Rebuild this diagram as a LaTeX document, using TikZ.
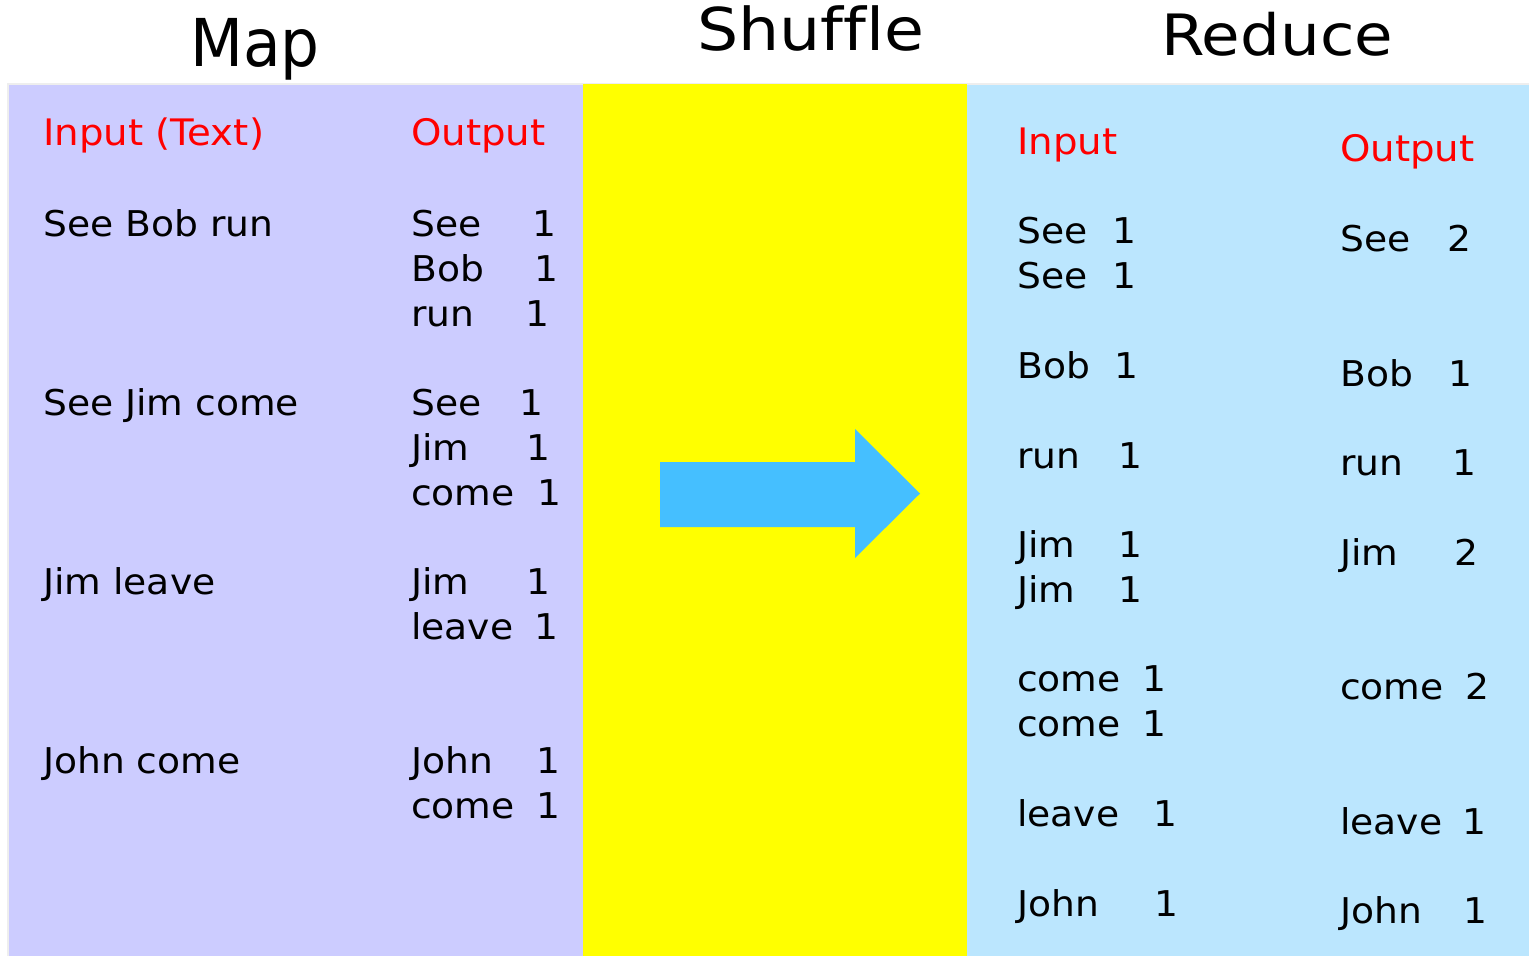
\documentclass[tikz,border=0pt]{standalone}
\usepackage{fontspec}
\setmainfont{DejaVu Sans}
\newfontfamily\bodyf[FakeStretch=1.06]{DejaVu Sans}
\newfontfamily\hdrf[FakeStretch=1.06]{DejaVu Sans}
\newfontfamily\mapf[FakeStretch=0.93]{DejaVu Sans}
\newfontfamily\titf[FakeStretch=1.10,Ligatures=NoCommon]{DejaVu Sans}
\definecolor{lav}{HTML}{CCCCFF}
\definecolor{yel}{HTML}{FFFF00}
\definecolor{lblue}{HTML}{BBE6FE}
\definecolor{arrowblue}{HTML}{45BFFF}
\definecolor{edge}{HTML}{EEEEEE}
\tikzset{
  txt/.style={anchor=base west, inner sep=0pt, font=\bodyf\fontsize{35.5}{42}\selectfont},
  num/.style={anchor=base, inner sep=0pt, font=\bodyf\fontsize{35.5}{42}\selectfont},
  hdr/.style={anchor=base west, inner sep=0pt, text=red, font=\hdrf\fontsize{36.5}{43}\selectfont},
  ttl/.style={anchor=base, inner sep=0pt, font=\titf\fontsize{57}{68}\selectfont},
}
\begin{document}
\begin{tikzpicture}[x=1pt,y=-1pt]
\useasboundingbox (0,0) rectangle (1529,956);
% panels
\fill[edge] (7,83) rectangle (967,956);
\fill[edge] (958,83) rectangle (1529,956);
\fill[lav] (9,85) rectangle (583,956);
\fill[yel] (583,84) rectangle (967,956);
\fill[lblue] (967,85) rectangle (1529,956);
% arrow
\fill[arrowblue] (660,462) -- (855,462) -- (855,429) -- (920,493.5) -- (855,558) -- (855,527) -- (660,527) -- cycle;
% titles
\node[ttl, font=\mapf\fontsize{66}{78}\selectfont] (tmap) at (255,66) {Map};
\node[ttl, font=\titf\fontsize{59}{70}\selectfont] (tshuf) at (811,50) {Shuffle};
\node[ttl] (tred) at (1277,55) {Reduce};
% map panel
\node[hdr] (min) at (43,145) {Input (Text)};
\node[hdr] (mout) at (411,145) {Output};
\node[txt] (l1) at (43,236) {See Bob run};
\node[txt] (l2) at (43,415) {See Jim come};
\node[txt] (l3) at (43,594) {Jim leave};
\node[txt] (l4) at (43,773) {John come};
\node[txt] (o1) at (411,236) {See};
\node[num] (o1n) at (544,236) {1};
\node[txt] (o2) at (411,281) {Bob};
\node[num] (o2n) at (546,281) {1};
\node[txt] (o3) at (411,326) {run};
\node[num] (o3n) at (537,326) {1};
\node[txt] (o4) at (411,415) {See};
\node[num] (o4n) at (531,415) {1};
\node[txt] (o5) at (411,460) {Jim};
\node[num] (o5n) at (538,460) {1};
\node[txt] (o6) at (411,505) {come};
\node[num] (o6n) at (549,505) {1};
\node[txt] (o7) at (411,594) {Jim};
\node[num] (o7n) at (538,594) {1};
\node[txt] (o8) at (411,639) {leave};
\node[num] (o8n) at (546,639) {1};
\node[txt] (o9) at (411,773) {John};
\node[num] (o9n) at (548,773) {1};
\node[txt] (o10) at (411,818) {come};
\node[num] (o10n) at (548,818) {1};
% reduce panel
\node[hdr] (rin) at (1017,154) {Input};
\node[hdr] (rout) at (1340,161) {Output};
\node[txt] (r1) at (1017,243) {See};
\node[num] (r1n) at (1124,243) {1};
\node[txt] (r2) at (1017,288) {See};
\node[num] (r2n) at (1124,288) {1};
\node[txt] (r3) at (1017,378) {Bob};
\node[num] (r3n) at (1126,378) {1};
\node[txt] (r4) at (1017,468) {run};
\node[num] (r4n) at (1130,468) {1};
\node[txt] (r5) at (1017,557) {Jim};
\node[num] (r5n) at (1130,557) {1};
\node[txt] (r6) at (1017,602) {Jim};
\node[num] (r6n) at (1130,602) {1};
\node[txt] (r7) at (1017,691) {come};
\node[num] (r7n) at (1154,691) {1};
\node[txt] (r8) at (1017,736) {come};
\node[num] (r8n) at (1154,736) {1};
\node[txt] (r9) at (1017,826) {leave};
\node[num] (r9n) at (1165,826) {1};
\node[txt] (r10) at (1017,916) {John};
\node[num] (r10n) at (1166,916) {1};
\node[txt] (s1) at (1340,251) {See};
\node[num] (s1n) at (1459,251) {2};
\node[txt] (s2) at (1340,386) {Bob};
\node[num] (s2n) at (1460,386) {1};
\node[txt] (s3) at (1340,475) {run};
\node[num] (s3n) at (1464,475) {1};
\node[txt] (s4) at (1340,565) {Jim};
\node[num] (s4n) at (1466,565) {2};
\node[txt] (s5) at (1340,699) {come};
\node[num] (s5n) at (1477,699) {2};
\node[txt] (s6) at (1340,834) {leave};
\node[num] (s6n) at (1474,834) {1};
\node[txt] (s7) at (1340,923) {John};
\node[num] (s7n) at (1475,923) {1};
\end{tikzpicture}
\end{document}
